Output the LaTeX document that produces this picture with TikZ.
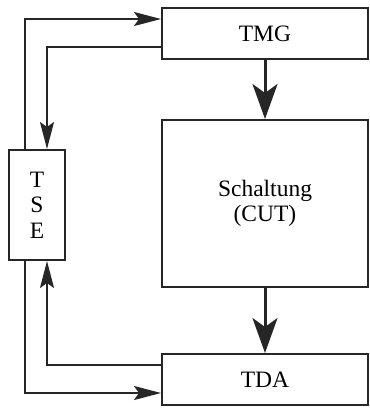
\documentclass[tikz,border=0pt]{standalone}
\usepackage{fontspec}
\setmainfont{Liberation Serif}
\usetikzlibrary{arrows.meta}
\begin{document}
\begin{tikzpicture}[x=1pt,y=1pt,
  blockbox/.style={draw=black!85, line width=2pt, inner sep=0pt, font=\fontsize{23.5}{25.5}\selectfont, align=center},
  thin arrow/.style={draw=black!85, line width=2pt, -{Stealth[length=27pt,width=14pt,inset=5pt]}},
  big arrow/.style={draw=black!85, line width=3pt, -{Stealth[length=35pt,width=25pt,inset=9pt]}}]
\useasboundingbox (0,0) rectangle (370,-408);
\node[blockbox, minimum width=206pt, minimum height=51pt] (tmg) at (265,-33.5) {TMG};
\node[blockbox, minimum width=206pt, minimum height=167pt] (cut) at (265,-203.5) {Schaltung\\(CUT)};
\node[blockbox, minimum width=206pt, minimum height=51pt] (tda) at (265,-379.5) {TDA};
\node[blockbox, minimum width=56pt, minimum height=110pt] (tse) at (37,-205) {T\\S\\E};
\coordinate (ox) at (25,0);
\coordinate (ix) at (47,0);
\coordinate (ytop) at (0,-19);
\coordinate (ytin) at (0,-47);
\coordinate (ybin) at (0,-365);
\coordinate (ybot) at (0,-393);
% top loop
\draw[thin arrow] (tse.north -| ox) |- (tmg.west |- ytop);
\draw[thin arrow] (tmg.west |- ytin) -| (tse.north -| ix);
% bottom loop
\draw[thin arrow] (tda.west |- ybin) -| (tse.south -| ix);
\draw[thin arrow] (tse.south -| ox) |- (tda.west |- ybot);
% main flow
\draw[big arrow] (tmg.south) -- (cut.north);
\draw[big arrow] (cut.south) -- (tda.north);
\end{tikzpicture}
\end{document}
